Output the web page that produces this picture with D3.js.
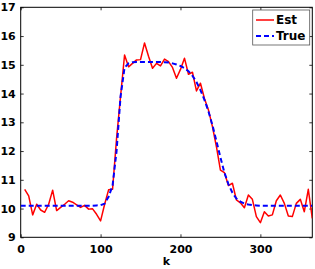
<!DOCTYPE html>
<html>
<head>
<meta charset="utf-8">
<script src="https://cdn.jsdelivr.net/npm/d3@7"></script>
<style>
  html, body { margin: 0; padding: 0; background: #fff; }
  svg { display: block; }
</style>
</head>
<body>
<svg id="chart" width="315" height="269"></svg>
<script>
// ---- data ----
const estK = d3.range(5, 366, 5);
const estValues = [
  10.67, 10.44, 9.78, 10.15, 9.95, 9.87, 10.15, 10.64, 9.93, 10.04,
  10.15, 10.27, 10.22, 10.13, 10.04, 10.11, 9.98, 9.99, 9.80, 9.57,
  10.14, 10.65, 10.67, 12.44, 13.90, 15.34, 14.93, 15.05, 15.17, 15.18,
  15.76, 15.30, 14.88, 15.05, 14.96, 15.20, 15.11, 14.91, 14.53, 14.84,
  15.23, 14.67, 14.74, 14.09, 14.36, 13.83, 13.43, 12.85, 12.15, 11.34,
  11.25, 10.80, 10.88, 10.30, 10.20, 10.03, 10.47, 10.32, 9.72, 9.51,
  9.89, 9.74, 9.78, 10.27, 10.47, 10.18, 9.74, 9.72, 10.18, 10.32,
  9.89, 10.67, 9.66
];
const trueK = d3.range(0, 366, 5);
const trueValues = [
  10.10, 10.10, 10.10, 10.10, 10.10, 10.10, 10.10, 10.10, 10.10, 10.10,
  10.10, 10.10, 10.10, 10.10, 10.10, 10.10, 10.10, 10.10, 10.10, 10.11,
  10.12, 10.17, 10.41, 10.80, 12.00, 13.90, 14.90, 15.05, 15.09, 15.10,
  15.10, 15.10, 15.10, 15.10, 15.10, 15.10, 15.09, 15.08, 15.05, 15.01,
  14.96, 14.88, 14.78, 14.62, 14.40, 14.12, 13.78, 13.38, 12.90, 12.35,
  11.78, 11.25, 10.85, 10.55, 10.35, 10.24, 10.17, 10.14, 10.12, 10.11,
  10.10, 10.10, 10.10, 10.10, 10.10, 10.10, 10.10, 10.10, 10.10, 10.10,
  10.10, 10.10, 10.10, 10.10
];
const xTicks = [0, 100, 200, 300];
const yTicks = [9, 10, 11, 12, 13, 14, 15, 16, 17];
const seriesNames = ["Est", "True"];
const xLabel = "k";

// ---- layout ----
const svg = d3.select("#chart");
const L = 20.7, T = 7.3, R = 312.3, B = 237.3;
const x = d3.scaleLinear().domain([0, 365]).range([L, R]);
const y = d3.scaleLinear().domain([9, 17]).range([B, T]);
const font = "'DejaVu Sans', 'Liberation Sans', Arial, sans-serif";

function styleAxis(g, showLabels) {
  g.select(".domain").remove();
  g.selectAll(".tick line").attr("stroke", "#000").attr("stroke-width", 0.8);
  g.selectAll(".tick text")
    .attr("fill", "#000")
    .style("font-family", font)
    .style("font-weight", "bold")
    .style("font-size", "11px");
  if (!showLabels) g.selectAll(".tick text").remove();
}

svg.append("g").attr("transform", `translate(0,${B})`)
  .call(d3.axisBottom(x).tickValues(xTicks).tickSize(-3).tickPadding(8).tickFormat(d3.format("d")))
  .call(g => styleAxis(g, true));
svg.append("g").attr("transform", `translate(0,${T})`)
  .call(d3.axisTop(x).tickValues(xTicks).tickSize(-3))
  .call(g => styleAxis(g, false));
svg.append("g").attr("transform", `translate(${L},0)`)
  .call(d3.axisLeft(y).tickValues(yTicks).tickSize(-3).tickPadding(5).tickFormat(d3.format("d")))
  .call(g => styleAxis(g, true));
svg.append("g").attr("transform", `translate(${R},0)`)
  .call(d3.axisRight(y).tickValues(yTicks).tickSize(-3))
  .call(g => styleAxis(g, false));

// box
svg.append("rect")
  .attr("x", L).attr("y", T).attr("width", R - L).attr("height", B - T)
  .attr("fill", "none").attr("stroke", "#000").attr("stroke-width", 1);

// lines
svg.append("clipPath").attr("id", "clip")
  .append("rect").attr("x", L).attr("y", T).attr("width", R - L).attr("height", B - T);

const estLine = d3.line().x((d, i) => x(estK[i])).y(d => y(d));
const trueLine = d3.line().x((d, i) => x(trueK[i])).y(d => y(d));

svg.append("path").datum(estValues)
  .attr("d", estLine).attr("fill", "none")
  .attr("stroke", "#ff0000").attr("stroke-width", 1.5)
  .attr("stroke-linejoin", "round")
  .attr("clip-path", "url(#clip)");

svg.append("path").datum(trueValues)
  .attr("d", trueLine).attr("fill", "none")
  .attr("stroke", "#0000ff").attr("stroke-width", 2)
  .attr("stroke-dasharray", "5,3")
  .attr("clip-path", "url(#clip)");

// x label
svg.append("text")
  .attr("x", (L + R) / 2).attr("y", 265)
  .attr("text-anchor", "middle")
  .style("font-family", font).style("font-weight", "bold").style("font-size", "11px")
  .text(xLabel);

// legend
const lg = svg.append("g");
lg.append("rect")
  .attr("x", 252.7).attr("y", 10).attr("width", 57).attr("height", 35)
  .attr("fill", "#fff").attr("stroke", "#555").attr("stroke-width", 0.8);
const legendStyles = [
  { color: "#ff0000", dash: null, w: 1.5 },
  { color: "#0000ff", dash: "5,3", w: 2 }
];
seriesNames.forEach((name, i) => {
  const cy = 20 + i * 16;
  lg.append("line")
    .attr("x1", 256).attr("x2", 274).attr("y1", cy).attr("y2", cy)
    .attr("stroke", legendStyles[i].color).attr("stroke-width", legendStyles[i].w)
    .attr("stroke-dasharray", legendStyles[i].dash);
  lg.append("text")
    .attr("x", 276).attr("y", cy).attr("dy", "0.36em")
    .style("font-family", font).style("font-weight", "bold").style("font-size", "12px")
    .text(name);
});
</script>
</body>
</html>
